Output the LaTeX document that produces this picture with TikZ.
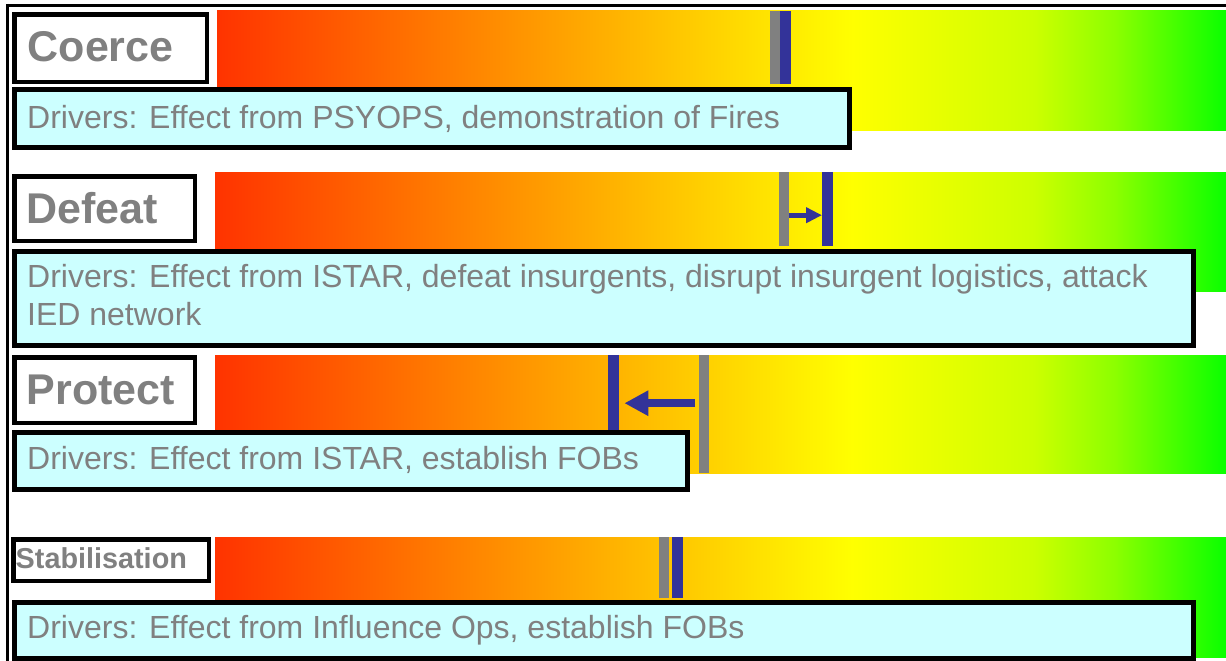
\documentclass[tikz,border=0pt]{standalone}
\usepackage{fontspec}
\setmainfont{Liberation Sans}
\usetikzlibrary{arrows.meta}
\definecolor{gR}{RGB}{255,51,0}
\definecolor{gY}{RGB}{255,255,0}
\definecolor{gLa}{RGB}{205,255,0}
\definecolor{gLb}{RGB}{140,255,0}
\definecolor{gG}{RGB}{10,255,0}
\definecolor{mgray}{RGB}{128,128,128}
\definecolor{mblue}{RGB}{51,51,153}
\definecolor{boxcyan}{RGB}{204,255,255}
\pgfdeclarehorizontalshading{ryg}{100bp}{color(0bp)=(gR); color(25bp)=(gR); color(56.5bp)=(gY); color(65.5bp)=(gLa); color(69.5bp)=(gLb); color(75bp)=(gG); color(100bp)=(gG)}
\begin{document}
\begin{tikzpicture}[x=1pt,y=-1pt,
  graybar/.style={fill=mgray,draw=none,inner sep=0,minimum width=10pt,anchor=north west},
  bluebar/.style={fill=mblue,draw=none,inner sep=0,minimum width=11pt,anchor=north west},
  lblbox/.style={draw=black,line width=4.5pt,fill=white,inner sep=0,anchor=north west},
  drvbox/.style={draw=black,line width=5pt,fill=boxcyan,inner sep=0,anchor=north west},
  lbltext/.style={font=\fontsize{43}{50}\selectfont\bfseries,text=mgray,inner sep=0,anchor=base west},
  smalllbl/.style={font=\fontsize{28.8}{34}\selectfont\bfseries,text=mgray,inner sep=0,anchor=base west},
  drvtext/.style={font=\fontsize{32}{38}\selectfont,text=mgray,inner sep=0,anchor=base west},
  arrS/.style={draw=mblue,line width=5pt,-{Triangle[length=16pt,width=15pt]}},
  arrL/.style={draw=mblue,line width=8pt,-{Triangle[length=24pt,width=24pt]}},
  frameline/.style={draw=black,line width=3.5pt}
]
\useasboundingbox (0,0) rectangle (1226,661);
% frame
\draw[frameline] (6,5.5) -- (1226,5.5);
\draw[frameline] (7.5,4) -- (7.5,661);
% gradients
\shade[shading=ryg] (217,11) rectangle (1226,130);
\shade[shading=ryg] (215,172) rectangle (1226,291);
\shade[shading=ryg] (215,355) rectangle (1226,473);
\shade[shading=ryg] (215,537) rectangle (1226,657);
% markers
\node[graybar,minimum height=73pt] (g1) at (770,11) {};
\node[bluebar,minimum height=73pt] (b1) at (780,11) {};
\node[graybar,minimum height=74pt] (g2) at (779,172) {};
\node[bluebar,minimum height=74pt] (b2) at (822,172) {};
\node[bluebar,minimum height=118pt] (b3) at (608,355) {};
\node[graybar,minimum height=118pt] (g3) at (699,355) {};
\node[graybar,minimum height=61pt] (g4) at (659,537) {};
\node[bluebar,minimum height=61pt] (b4) at (672,537) {};
% arrows
\draw[arrS] ([yshift=-6pt]g2.east) -- ([yshift=-6pt]b2.west);
\draw[arrL] ([xshift=-4pt,yshift=11pt]g3.west) -- ([xshift=5pt,yshift=11pt]b3.east);
% label boxes
\node[lblbox,minimum width=192.5pt,minimum height=67.5pt] (l1) at (12.25,12.25) {};
\node[lblbox,minimum width=180.5pt,minimum height=64.5pt] (l2) at (12.25,174.25) {};
\node[lblbox,minimum width=180.5pt,minimum height=65.5pt] (l3) at (12.25,355.25) {};
\node[lblbox,minimum width=195.5pt,minimum height=41.5pt] (l4) at (11.25,537.25) {};
% driver boxes
\node[drvbox,minimum width=835pt,minimum height=58pt] (d1) at (11.5,86.5) {};
\node[drvbox,minimum width=1179pt,minimum height=94pt] (d2) at (11.5,248.5) {};
\node[drvbox,minimum width=673pt,minimum height=57pt] (d3) at (11.5,429.5) {};
\node[drvbox,minimum width=1179pt,minimum height=56pt] (d4) at (11.5,599.5) {};
% texts
\node[lbltext] (t1) at (27.5,62) {Coerce};
\node[lbltext] (t2) at (26.5,223) {Defeat};
\node[lbltext] (t3) at (26.5,404) {Protect};
\node[smalllbl] (t4) at (15.5,568) {Stabilisation};
\node[drvtext] (x1) at (27,128) {Drivers: Effect from PSYOPS, demonstration of Fires};
\node[drvtext] (x2a) at (27,287) {Drivers: Effect from ISTAR, defeat insurgents, disrupt insurgent logistics, attack};
\node[drvtext] (x2b) at (27,325) {IED network};
\node[drvtext] (x3) at (27,469) {Drivers: Effect from ISTAR, establish FOBs};
\node[drvtext] (x4) at (27,638) {Drivers: Effect from Influence Ops, establish FOBs};
\end{tikzpicture}
\end{document}
